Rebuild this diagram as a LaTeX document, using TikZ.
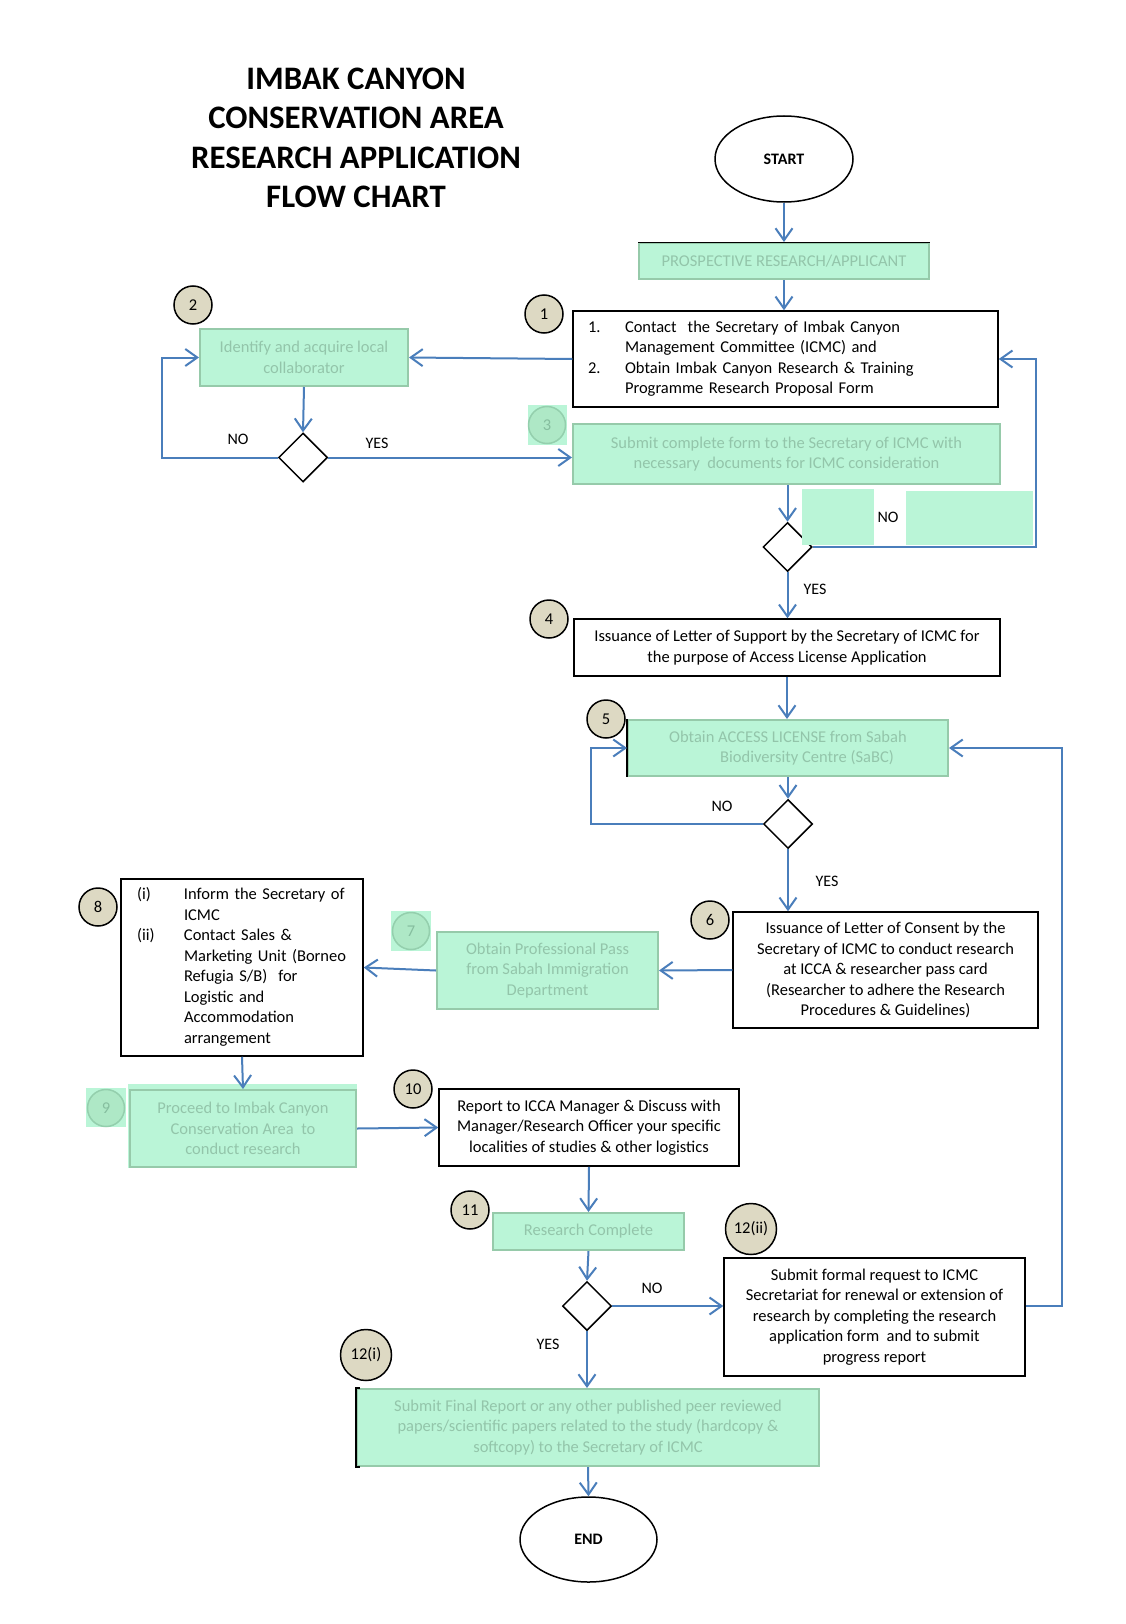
\documentclass[tikz,border=0pt]{standalone}
\usepackage{fontspec}
\setmainfont{Carlito}
\usetikzlibrary{arrows.meta,shapes.geometric}
\definecolor{arr}{HTML}{4A7EBB}
\definecolor{mint}{HTML}{BAF5D7}
\definecolor{mintedge}{HTML}{96CAAA}
\definecolor{minttext}{HTML}{93C5AA}
\definecolor{fnumtext}{HTML}{86BE9F}
\definecolor{beige}{HTML}{DDD9C3}
\definecolor{fcirc}{HTML}{AEE8C6}
\definecolor{fcircedge}{HTML}{94CFAD}
\begin{document}
\begin{tikzpicture}[x=1pt,y=-1pt,
  body/.style={font=\fontsize{16.5}{20.5}\selectfont},
  box/.style={body, draw=black, line width=1.5pt, fill=white, inner sep=0pt, align=center},
  gbox/.style={body, draw=mintedge, line width=2pt, fill=mint, text=minttext, inner sep=0pt, align=center},
  num/.style={circle, draw=black, line width=1.5pt, fill=beige, minimum size=38pt, inner sep=0pt, font=\fontsize{16.5}{18}\selectfont},
  bignum/.style={num, minimum size=51pt},
  fnum/.style={circle, draw=fcircedge, line width=1.5pt, fill=fcirc, text=fnumtext, minimum size=37pt, inner sep=0pt, font=\fontsize{16.5}{18}\selectfont},
  dec/.style={diamond, draw=black, line width=1.5pt, fill=white, minimum width=49pt, minimum height=49pt, inner sep=0pt},
  term/.style={ellipse, draw=black, line width=1.5pt, fill=white, inner sep=0pt, font=\fontsize{16}{18}\selectfont\bfseries},
  lbl/.style={font=\fontsize{16}{18}\selectfont, inner sep=0pt},
  flow/.style={draw=arr, line width=2pt, -{Straight Barb[length=12pt,width=17pt]}},
  patch/.style={fill=mint, draw=none}
]
\useasboundingbox[fill=white] (0,0) rectangle (1125,1624);

% title
\node[font=\fontsize{32.8}{39.5}\selectfont\bfseries, align=center] (title) at (356,138)
  {IMBAK CANYON\\CONSERVATION AREA\\RESEARCH APPLICATION\\FLOW CHART};

% terminals and boxes
\node[term, minimum width=138pt, minimum height=86pt] (start) at (784,159) {START};
\node[gbox, minimum width=290pt, minimum height=36pt] (pros) at (784,261) {PROSPECTIVE RESEARCH/APPLICANT};
\draw[black, line width=1pt] (pros.north west) -- (pros.north east);

\node[box, minimum width=425pt, minimum height=96pt, text width=395pt, align=left] (b1) at (785.5,359)
  {\begin{tabular}{@{}p{37pt}@{}l@{}}1.&Contact\ \ the Secretary of Imbak Canyon\\&Management Committee (ICMC) and\\2.&Obtain Imbak Canyon Research \& Training\\&Programme Research Proposal Form\end{tabular}};

\node[gbox, minimum width=208pt, minimum height=57pt] (b2) at (304,357.5) {Identify and acquire local\\collaborator};
\node[dec] (dA) at (303,457.5) {};

\node[gbox, minimum width=427pt, minimum height=60pt] (b3) at (786.5,454) {Submit complete form to the Secretary of ICMC with\\necessary\ \ documents for ICMC consideration};
\node[dec] (dB) at (787.5,547) {};
\fill[patch] (802,489) rectangle (874,545);
\fill[patch] (906,491) rectangle (1033,545);

\node[box, minimum width=426pt, minimum height=57pt] (b4) at (787,647.5) {Issuance of Letter of Support by the Secretary of ICMC for\\the purpose of Access License Application};
\node[gbox, minimum width=320pt, minimum height=56pt] (b5) at (788,748) {Obtain ACCESS LICENSE from Sabah\\\hspace*{38pt}Biodiversity Centre (SaBC)};
\draw[black, line width=1.2pt] (b5.north west) -- (b5.south west);
\node[dec] (dC) at (788,824) {};

\node[box, minimum width=305pt, minimum height=116pt] (b6) at (885.5,970) {Issuance of Letter of Consent by the\\Secretary of ICMC to conduct research\\at ICCA \& researcher pass card\\(Researcher to adhere the Research\\Procedures \& Guidelines)};
\node[gbox, minimum width=221pt, minimum height=77pt] (b7) at (547.5,970.5) {Obtain Professional Pass\\from Sabah Immigration\\Department};
\node[box, minimum width=242pt, minimum height=177pt, text width=210pt, align=left] (b8) at (242,967.5)
  {\begin{tabular}{@{}p{47pt}@{}l@{}}(i)&Inform the Secretary of\\&ICMC\\(ii)&Contact Sales \&\\&Marketing Unit (Borneo\\&Refugia S/B)\ \ for\\&Logistic and\\&Accommodation\\&arrangement\end{tabular}};

\fill[patch] (128,1084) rectangle (357,1168);
\node[gbox, minimum width=226pt, minimum height=77pt] (b9) at (243,1128.5) {Proceed to Imbak Canyon\\Conservation Area\ \ to\\conduct research};
\node[box, minimum width=300pt, minimum height=77pt] (b10) at (589,1127.5) {Report to ICCA Manager \& Discuss with\\Manager/Research Officer your specific\\localities of studies \& other logistics};
\node[gbox, minimum width=191pt, minimum height=37pt] (b11) at (588.5,1231.5) {Research Complete};
\node[dec] (dD) at (587,1306) {};
\node[box, minimum width=301pt, minimum height=118pt] (b12) at (874.5,1317) {Submit formal request to ICMC\\Secretariat for renewal or extension of\\research by completing the research\\application form\ \ and to submit\\progress report};
\node[gbox, minimum width=462pt, minimum height=77pt] (bfin) at (588,1427.5) {Submit Final Report or any other published peer reviewed\\papers/scientific papers related to the study (hardcopy \&\\softcopy) to the Secretary of ICMC};
\draw[black, line width=1.2pt] ([xshift=4pt]bfin.north west) -- (bfin.north west) -- (bfin.south west) -- ([xshift=4pt]bfin.south west);
\node[term, minimum width=137pt, minimum height=85pt] (end) at (588.5,1539.5) {END};

% number circles
\node[num] (c1) at (544,314) {1};
\node[num] (c2) at (193,305) {2};
\fill[patch] (528,405) rectangle (567,445);
\node[fnum] (c3) at (547,425) {3};
\node[num] (c4) at (549,619) {4};
\node[num] (c5) at (606,719) {5};
\node[num] (c6) at (710,920) {6};
\fill[patch] (391,911) rectangle (431,951);
\node[fnum] (c7) at (411,931) {7};
\node[num] (c8) at (98,907) {8};
\fill[patch] (86,1088) rectangle (126,1127);
\node[fnum] (c9) at (106,1108) {9};
\node[num] (c10) at (413,1089) {10};
\node[num] (c11) at (470,1210) {11};
\node[bignum] (c12b) at (751,1229) {12(ii)};
\node[bignum] (c12a) at (366,1355) {12(i)};

% labels
\node[lbl] (noA) at (238,439) {NO};
\node[lbl] (yesA) at (377,443) {YES};
\node[lbl] (noB) at (888,517) {NO};
\node[lbl] (yesB) at (815,589) {YES};
\node[lbl] (noC) at (722,806) {NO};
\node[lbl] (yesC) at (827,881) {YES};
\node[lbl] (noD) at (652,1288) {NO};
\node[lbl] (yesD) at (548,1344) {YES};

% loop corners
\coordinate (loopA) at (162,457.5);
\coordinate (loopB) at (1036,547);
\coordinate (loopC) at (591,824);
\coordinate (loopD) at (1062,1306);

% connectors
\draw[flow] (start.south) -- (start.south |- pros.north);
\draw[flow] (pros.south) -- (pros.south |- b1.north);
\draw[flow] (b1.west) -- (b2.east);
\draw[flow] (b2.south) -- (dA.north);
\draw[flow] (dA.west) -- (loopA) |- (b2.west);
\draw[flow] (dA.east) -- (dA.east -| b3.west);
\draw[flow] (dB.north |- b3.south) -- (dB.north);
\draw[flow] (dB.east) -- (loopB) |- (b1.east);
\draw[flow] (dB.south) -- (dB.south |- b4.north);
\draw[flow] (b4.south) -- (b4.south |- b5.north);
\draw[flow] (b5.south) -- (dC.north);
\draw[flow] (dC.west) -- (loopC) |- (b5.west);
\draw[flow] (dC.south) -- (dC.south |- b6.north);
\draw[flow] (b6.west) -- (b7.east);
\draw[flow] (b7.west) -- (b8.east);
\draw[flow] (b8.south) -- (b9.north);
\draw[flow] (b9.east) -- (b10.west);
\draw[flow] (b10.south) -- (b11.north);
\draw[flow] (b11.south) -- (dD.north);
\draw[flow] (dD.east) -- (dD.east -| b12.west);
\draw[flow] (b12.east |- loopD) -- (loopD) |- (b5.east);
\draw[flow] (dD.south) -- (dD.south |- bfin.north);
\draw[flow] (bfin.south) -- (end.north);
\end{tikzpicture}
\end{document}
